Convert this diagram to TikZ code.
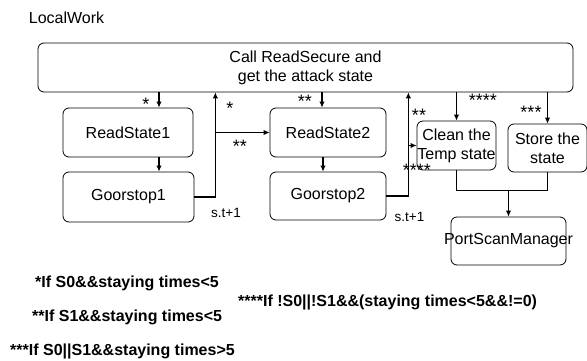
\documentclass[tikz,border=0pt]{standalone}
\usepackage{fontspec}
\setmainfont{Liberation Sans}
\usetikzlibrary{arrows.meta}

\begin{document}
\begin{tikzpicture}[x=1pt,y=-1pt,
    box/.style ={rectangle, draw, rounded corners=6pt, line width=0.8pt, inner sep=0pt,
                 font=\fontsize{16}{19}\selectfont, align=center},
    flow/.style ={line width=1.8pt, -{Latex[length=6pt,width=5.5pt]}},
    tag/.style ={inner sep=0pt, font=\fontsize{18}{20}\selectfont},
    step label/.style ={inner sep=0pt, font=\fontsize{13.5}{16}\selectfont},
    cond/.style ={inner sep=0pt, anchor=west, font=\bfseries\fontsize{16}{19}\selectfont}]
   \useasboundingbox (0,0) rectangle (587,361);

   \node[inner sep=0pt, font=\fontsize{16}{19}\selectfont] (title) at (66.5,18) {LocalWork};

   \node[box, minimum width=535pt, minimum height=49pt] (call) at (305.5,67.5) {Call ReadSecure and\\get the attack state};
   \node[box, minimum width=130pt, minimum height=49pt] (rs1) at (128,132.5) {ReadState1};
   \node[box, minimum width=131pt, minimum height=50pt] (gs1) at (128.5,197) {Goorstop1};
   \node[box, minimum width=116pt, minimum height=49pt] (rs2) at (328,132.5) {ReadState2};
   \node[box, minimum width=116pt, minimum height=48pt] (gs2) at (328,196) {Goorstop2};
   \node[box, minimum width=79pt, minimum height=49pt] (clean) at (456.5,145.5) {Clean the\\Temp state};
   \node[box, minimum width=79pt, minimum height=48pt] (store) at (547.5,148) {Store the\\state};
   \node[box, minimum width=115pt, minimum height=48pt] (psm) at (508.5,241) {\makebox[0pt]{PortScanManager}};

   % first round
   \draw[flow] ([xshift=31pt]rs1.north |- call.south) -- ([xshift=31pt]rs1.north);
   \draw[flow] ([xshift=31pt]rs1.south) -- ([xshift=31pt]rs1.south |- gs1.north);
   \draw[flow] (gs1.east) -- ++(21,0) coordinate (back1) -- (back1 |- call.south);
   \draw[flow] (back1 |- rs2.west) -- (rs2.west);

   % second round
   \draw[flow] ([xshift=-6pt]rs2.north |- call.south) -- ([xshift=-6pt]rs2.north);
   \draw[flow] ([xshift=-5pt]rs2.south) -- ([xshift=-5pt]rs2.south |- gs2.north);
   \draw[flow] (gs2.east) -- ++(22,0) coordinate (back2) -- (back2 |- call.south);
   \draw[flow] (back2 |- clean.west) -- (clean.west);

   % results
   \draw[flow] (clean.north |- call.south) -- (clean.north);
   \draw[flow] (store.north |- call.south) -- (store.north);
   \draw[line width=1.8pt] (clean.south) -- ++(0,20) coordinate (join) -| (store.south);
   \draw[flow] (psm.north |- join) -- (psm.north);

   \node[tag] (t1) at (146,104) {*};
   \node[tag] (t2) at (230,108) {*};
   \node[tag] (t3) at (240,146) {**};
   \node[tag] (t4) at (305,101) {**};
   \node[tag] (t5) at (419,115) {**};
   \node[tag] (t6) at (417,170) {****};
   \node[tag] (t7) at (483,100) {****};
   \node[tag] (t8) at (531,112) {***};

   \node[step label] (st1) at (226,213) {s.t+1};
   \node[step label] (st2) at (409.5,217) {s.t+1};

   \node[cond] (c1) at (35,283) {*If S0\&\&staying times<5};
   \node[cond] (c2) at (32,317) {**If S1\&\&staying times<5};
   \node[cond] (c3) at (10,351) {***If S0||S1\&\&staying times>5};
   \node[cond] (c4) at (238,302) {****If !S0||!S1\&\&(staying times<5\&\&!=0)};
\end{tikzpicture}
\end{document}
